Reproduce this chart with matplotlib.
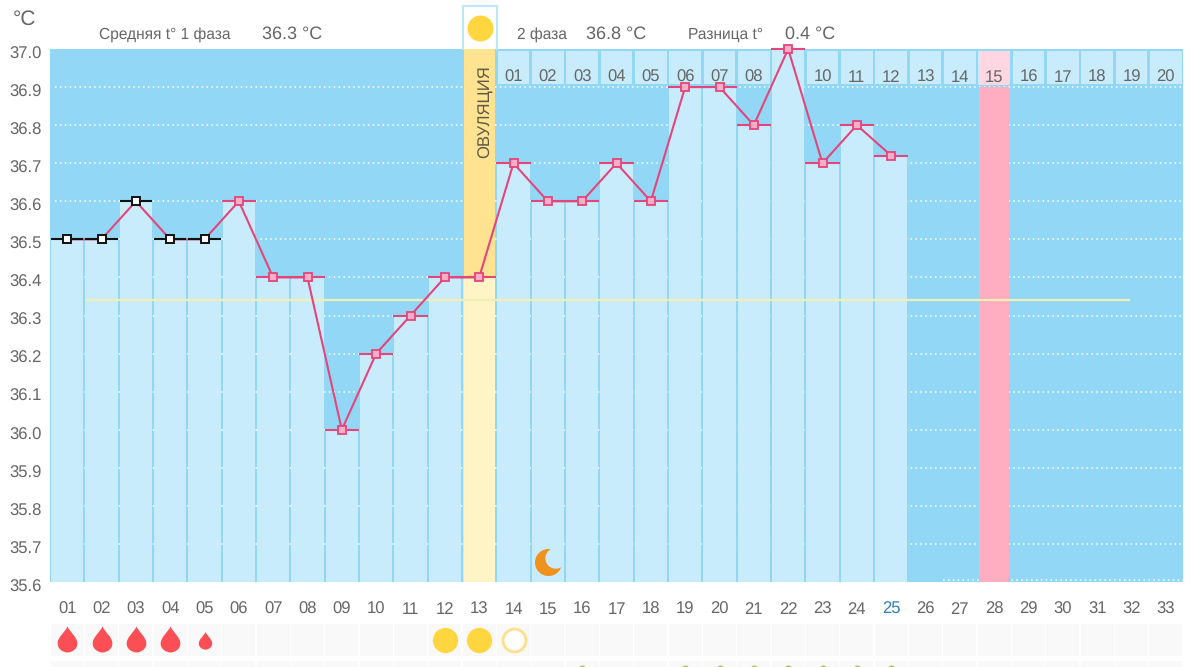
import matplotlib
matplotlib.use('Agg')
import matplotlib.pyplot as plt
from matplotlib.path import Path
from matplotlib.transforms import ScaledTranslation
import numpy as np

plt.rcParams['font.family'] = ['Liberation Sans', 'DejaVu Sans']
plt.rcParams['text.hinting'] = 'no_hinting'

# Data
days = ['%02d' % d for d in range(1, 34)]
temps = [36.5, 36.5, 36.6, 36.5, 36.5, 36.6, 36.4, 36.4, 36.0, 36.2, 36.3, 36.4, 36.4,
         36.7, 36.6, 36.6, 36.7, 36.6, 36.9, 36.9, 36.8, 37.0, 36.7, 36.8, 36.72]
yticks = [35.6, 35.7, 35.8, 35.9, 36.0, 36.1, 36.2, 36.3, 36.4, 36.5, 36.6, 36.7, 36.8, 36.9, 37.0]
phase2_days = ['01', '02', '03', '04', '05', '06', '07', '08', '', '10',
               '11', '12', '13', '14', '15', '16', '17', '18', '19', '20']
excluded = 5  # first days drawn with black markers
mean_temp = 36.34
ovulation_day = 13
peak_day = 28
big_drops = [1, 2, 3, 4]
small_drops = [5]
full_suns = [12, 13]
empty_suns = [14]
moon_days = [15]
green_days = [16, 19, 20, 21, 22, 23, 24, 25]

DARK = '#92D8F6'
LIGHT = '#C9ECFC'
GREY = '#666666'
PINK = '#E4457A'

W, H = 1200, 667
fig = plt.figure(figsize=(W / 100, H / 100), dpi=100)
ax = fig.add_axes([50 / W, 1 - 582 / H, 1133 / W, 533 / H])
ax.set_xlim(0.5, 33.5)
ax.set_ylim(35.6, 37.0)
ax.set_facecolor(DARK)
for s in ax.spines.values():
    s.set_visible(False)

x = np.arange(1, len(temps) + 1)

# dotted grid under the bars
ax.hlines(yticks[1:-1], 0.65, 33.5, color='white', lw=1.1, linestyles=(0, (1, 2.2)), zorder=1)
ax.hlines(35.605, 26.5, 33.5, color='white', lw=1.1, linestyles=(0, (1, 2.2)), zorder=1)

# temperature columns
ax.bar(x, np.array(temps) - 35.6, bottom=35.6, width=0.95, color=LIGHT, zorder=2)

# top row with the days of phase 2
top_x = np.arange(ovulation_day + 1, 34)
ax.bar(top_x, 0.088, bottom=36.907, width=0.92, color=LIGHT, zorder=2)
for xi, lab in zip(top_x, phase2_days):
    ax.text(xi, 36.925, lab, ha='center', va='center', fontsize=12, color=GREY, zorder=6)

# ovulation and peak columns
ax.bar(ovulation_day, 36.4 - 35.6, bottom=35.6, width=0.9, color='#FEF4C6', zorder=3)
ax.bar(ovulation_day, 0.6, bottom=36.4, width=0.9, color='#FFE391', zorder=3)
ax.bar(peak_day, 1.3, bottom=35.6, width=0.89, color='#FFADC1', zorder=3)
ax.bar(peak_day, 0.09, bottom=36.905, width=0.89, color='#FFD6E1', zorder=3)
ax.text(ovulation_day + 0.17, 36.835, 'ОВУЛЯЦИЯ', rotation=90, ha='center', va='center',
        fontsize=12, color='#5F5A45', zorder=4)

# mean line
ax.hlines(mean_temp, 1.53, 31.97, color='#F3EFB4', lw=1.6, zorder=4)

# temperature line and markers
ax.plot(x, temps, color=PINK, lw=1.5, zorder=5, clip_on=False)
ax.hlines(temps[excluded:], x[excluded:] - 0.5, x[excluded:] + 0.5, color=PINK, lw=1.5, zorder=5, clip_on=False)
ax.hlines(temps[:excluded], x[:excluded] - 0.47, x[:excluded] + 0.47, color='#111111', lw=1.5, zorder=5, clip_on=False)
ax.plot(x[excluded:], temps[excluded:], ls='', marker='s', ms=5.5, mfc='#F6AFC6', mec=PINK, mew=1.3,
        zorder=6, clip_on=False)
ax.plot(x[:excluded], temps[:excluded], ls='', marker='s', ms=5.5, mfc='white', mec='#111111', mew=1.4,
        zorder=6, clip_on=False)

# moon in the plot: outer arc between two tips, inner arc back through a shifted circle
tip1, tip2 = np.radians(80), np.radians(340)
t = np.linspace(tip1, tip2, 40)
outer = np.c_[np.cos(t), np.sin(t)]
centre = 0.62 * np.array([np.cos(np.radians(30)), np.sin(np.radians(30))])
r = np.hypot(*(outer[0] - centre))
a_end = np.arctan2(*(outer[-1] - centre)[::-1]) % (2 * np.pi)
a_start = np.arctan2(*(outer[0] - centre)[::-1]) % (2 * np.pi)
a = np.linspace(a_end, a_start, 40)
inner = np.c_[centre[0] + r * np.cos(a), centre[1] + r * np.sin(a)]
moon = Path(np.r_[outer, inner, outer[:1]], closed=True)
ax.scatter(moon_days, [35.652], marker=moon, s=380, color='#F0921E', lw=0, zorder=6)

# y tick labels and x labels
ax.set_yticks(yticks)
ax.set_yticklabels(['%.1f' % v for v in yticks], fontsize=12, color=GREY)
ax.tick_params(axis='y', length=0, pad=6)
for lab in ax.get_yticklabels():
    lab.set_transform(lab.get_transform() + ScaledTranslation(0, -3.5 / 100, fig.dpi_scale_trans))
ax.set_xticks(np.arange(1, 34))
ax.set_xticklabels(days, fontsize=12, color=GREY)
ax.tick_params(axis='x', length=0, pad=14)
ax.get_xticklabels()[24].set_color('#2E7FB8')

# strip of symbols below the chart
strip = fig.add_axes([50 / W, 1 - 656 / H, 1133 / W, 32 / H])
strip.set_xlim(0.5, 33.5)
strip.set_ylim(0, 1)
strip.axis('off')
strip.bar(np.arange(1, 34), 1, bottom=0, width=0.96, color='#F9F9F9')

drop_verts = [(0, 1), (0.2, 0.55), (0.7, 0.25), (0.7, -0.22), (0.7, -0.62), (0.3, -0.85), (0, -0.85),
              (-0.3, -0.85), (-0.7, -0.62), (-0.7, -0.22), (-0.7, 0.25), (-0.2, 0.55), (0, 1), (0, 1)]
drop_codes = [Path.MOVETO] + [Path.CURVE4] * 12 + [Path.CLOSEPOLY]
drop = Path(drop_verts, drop_codes)
strip.scatter(big_drops, [0.5] * len(big_drops), marker=drop, s=410, color='#FB4F55', lw=0, clip_on=False)
strip.scatter(small_drops, [0.47] * len(small_drops), marker=drop, s=190, color='#FB4F55', lw=0, clip_on=False)
strip.scatter(full_suns, [0.5] * len(full_suns), s=330, color='#FFD63F', lw=0, clip_on=False)
strip.scatter(empty_suns, [0.5] * len(empty_suns), s=270, color='white', edgecolor='#FCE08A', lw=2, clip_on=False)

# next row, cut off by the image edge
strip2 = fig.add_axes([50 / W, 0, 1133 / W, 6 / H])
strip2.set_xlim(0.5, 33.5)
strip2.set_ylim(0, 6)
strip2.axis('off')
strip2.bar(np.arange(1, 34), 6, bottom=0, width=0.96, color='#F9F9F9')
strip2.scatter(green_days, [-2] * len(green_days), s=33, color='#B5BF4F', lw=0, zorder=3)

# header texts
overlay = fig.add_axes([0, 0, 1, 1])
overlay.set_xlim(0, W)
overlay.set_ylim(H, 0)
overlay.axis('off')
overlay.patch.set_alpha(0)
overlay.text(13, 19, '°C', fontsize=15, color=GREY, va='center')
overlay.text(99, 35, 'Средняя t° 1 фаза', fontsize=11.2, color=GREY, va='center')
overlay.text(262, 34, '36.3 °C', fontsize=13, color=GREY, va='center')
overlay.text(517, 35, '2 фаза', fontsize=11.2, color=GREY, va='center')
overlay.text(586, 34, '36.8 °C', fontsize=13, color=GREY, va='center')
overlay.text(688, 35, 'Разница t°', fontsize=11.2, color=GREY, va='center')
overlay.text(785, 34, '0.4 °C', fontsize=13, color=GREY, va='center')

# ovulation sun box
sun_ax = fig.add_axes([462.5 / W, 1 - 49 / H, 34 / W, 43 / H])
sun_ax.set_xlim(0, 1)
sun_ax.set_ylim(0, 1)
sun_ax.set_xticks([])
sun_ax.set_yticks([])
for s in sun_ax.spines.values():
    s.set_color('#BFE6F8')
    s.set_linewidth(1.5)
sun_ax.spines['bottom'].set_visible(False)
sun_ax.scatter([0.5], [0.5], s=350, color='#FFD63F', lw=0)

fig.savefig('out.png', dpi=100)
